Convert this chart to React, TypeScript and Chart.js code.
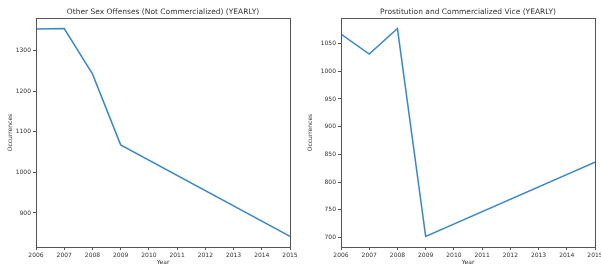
import React, { useEffect, useRef } from "react";
import { Chart, registerables } from "chart.js";

Chart.register(...registerables);

const years = [2006, 2007, 2008, 2009, 2015];
const otherSexOffenses = [1354, 1355, 1243, 1068, 842];
const prostitutionVice = [1067, 1031, 1077, 702, 836];
const xTickYears = [2006, 2007, 2008, 2009, 2010, 2011, 2012, 2013, 2014, 2015];
const leftYTicks = [900, 1000, 1100, 1200, 1300];
const rightYTicks = [700, 750, 800, 850, 900, 950, 1000, 1050];
const leftTitle = "Other Sex Offenses (Not Commercialized) (YEARLY)";
const rightTitle = "Prostitution and Commercialized Vice (YEARLY)";

const FONT = "'DejaVu Sans', sans-serif";
const TEXT = "#333";
const SPINE = "#555";
const LINE = "#3a88c6";

const spinePlugin = {
  id: "spines",
  afterDraw(chart: any) {
    const { ctx, chartArea } = chart;
    ctx.save();
    ctx.strokeStyle = SPINE;
    ctx.lineWidth = 1;
    ctx.strokeRect(
      Math.round(chartArea.left) + 0.5,
      Math.round(chartArea.top) + 0.5,
      Math.round(chartArea.right - chartArea.left),
      Math.round(chartArea.bottom - chartArea.top)
    );
    ctx.restore();
  },
};

function makeConfig(
  title: string,
  values: number[],
  yTicks: number[],
  yMin: number,
  yMax: number,
  yWidth: number,
  padRight: number
): any {
  return {
    type: "line",
    data: {
      datasets: [
        {
          data: years.map((x, i) => ({ x, y: values[i] })),
          borderColor: LINE,
          borderWidth: 1.5,
          pointRadius: 0,
          fill: false,
          tension: 0,
        },
      ],
    },
    options: {
      animation: false,
      responsive: false,
      maintainAspectRatio: false,
      layout: { padding: { left: 0, right: padRight, top: 0, bottom: 0 } },
      plugins: {
        legend: { display: false },
        tooltip: { enabled: false },
        title: {
          display: true,
          text: title,
          fullSize: false,
          color: TEXT,
          font: { family: FONT, size: 7.5, weight: "normal", lineHeight: 1.2 },
          padding: { top: 7.2, bottom: 1.8 },
        },
      },
      scales: {
        x: {
          type: "linear",
          min: 2006,
          max: 2015,
          afterBuildTicks: (s: any) => {
            s.ticks = xTickYears.map((v) => ({ value: v }));
          },
          afterFit: (s: any) => {
            s.height = 22;
          },
          ticks: {
            autoSkip: false,
            maxRotation: 0,
            minRotation: 0,
            padding: 2,
            color: TEXT,
            font: { family: FONT, size: 6 },
            callback: (v: any) => String(v),
          },
          grid: { display: true, drawOnChartArea: false, drawTicks: true, tickLength: 3, color: SPINE },
          border: { display: false },
          title: {
            display: true,
            text: "Year",
            color: TEXT,
            font: { family: FONT, size: 6, lineHeight: 1.2 },
            padding: { top: 0, bottom: 2.7 },
          },
        },
        y: {
          type: "linear",
          min: yMin,
          max: yMax,
          afterBuildTicks: (s: any) => {
            s.ticks = yTicks.map((v) => ({ value: v }));
          },
          afterFit: (s: any) => {
            s.width = yWidth;
          },
          ticks: {
            padding: 2,
            color: TEXT,
            font: { family: FONT, size: 6 },
            callback: (v: any) => String(v),
          },
          grid: { display: true, drawOnChartArea: false, drawTicks: true, tickLength: 3, color: SPINE },
          border: { display: false },
          title: {
            display: true,
            text: "Occurrences",
            color: TEXT,
            font: { family: FONT, size: 6, lineHeight: 1.2 },
            padding: { top: 6.4, bottom: 0 },
          },
        },
      },
    },
    plugins: [spinePlugin],
  };
}

function Panel(props: { left: number; width: number; canvasWidth: number; config: any }) {
  const ref = useRef<HTMLCanvasElement | null>(null);
  useEffect(() => {
    if (!ref.current) return;
    const chart = new Chart(ref.current, props.config);
    return () => chart.destroy();
  }, []);
  return (
    <div
      style={{
        position: "absolute",
        left: props.left,
        top: 0,
        width: props.width,
        height: 269,
        overflow: "hidden",
      }}
    >
      <canvas
        ref={ref}
        width={props.canvasWidth}
        height={269}
        style={{ display: "block", width: props.canvasWidth, height: 269 }}
      />
    </div>
  );
}

export default function App() {
  const leftCfg = makeConfig(leftTitle, otherSexOffenses, leftYTicks, 816, 1381, 36, 10);
  const rightCfg = makeConfig(rightTitle, prostitutionVice, rightYTicks, 683, 1096, 41, 15);
  return (
    <div
      style={{
        position: "absolute",
        left: 0,
        top: 0,
        width: 601,
        height: 269,
        overflow: "hidden",
        background: "#fff",
      }}
    >
      <Panel left={0} width={300} canvasWidth={300} config={leftCfg} />
      <Panel left={300} width={301} canvasWidth={310} config={rightCfg} />
    </div>
  );
}
